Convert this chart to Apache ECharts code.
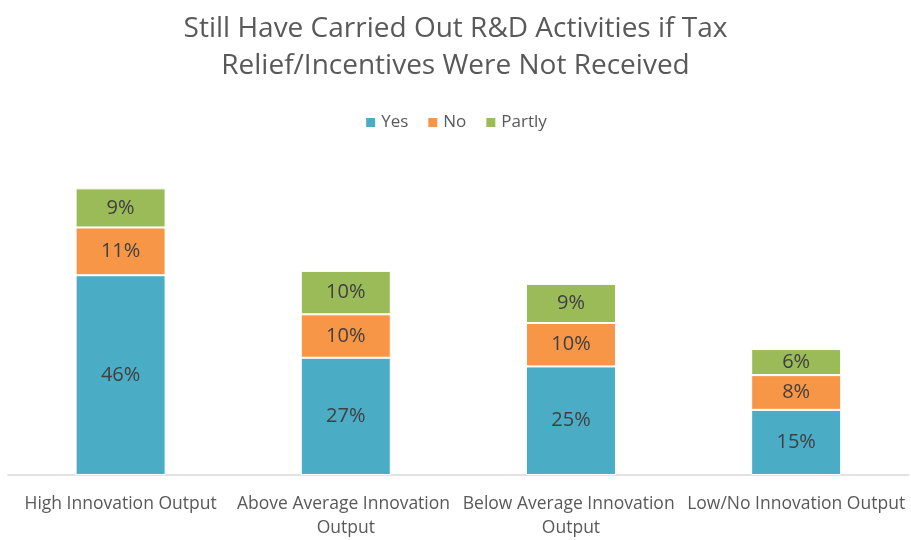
<!DOCTYPE html>
<html>
<head>
<meta charset="utf-8">
<script src="https://cdn.jsdelivr.net/npm/echarts@6/dist/echarts.min.js"></script>
<style>
  html, body { margin: 0; padding: 0; background: #fff; }
  #chart { width: 911px; height: 540px; }
</style>
</head>
<body>
<div id="chart"></div>
<script>
// Share of firms per innovation-output group (percent)
const categories = ['High Innovation Output', 'Above Average Innovation Output', 'Below Average Innovation Output', 'Low/No Innovation Output'];
const yesValues = [46, 27, 25, 15];
const noValues = [11, 10, 10, 8];
const partlyValues = [9, 10, 9, 6];
const seriesNames = ['Yes', 'No', 'Partly'];

const FONT = '"Open Sans", "Noto Sans", sans-serif';
const colors = ['#4BACC6', '#F79646', '#9BBB59'];

function stackSeries(name, values, color) {
  return {
    name: name,
    type: 'bar',
    stack: 'total',
    data: values,
    barWidth: 90,
    itemStyle: { color: color, borderColor: '#ffffff', borderWidth: 1 },
    label: {
      show: true,
      position: 'inside',
      formatter: '{c}%',
      color: '#404040',
      fontFamily: FONT,
      fontSize: 20
    }
  };
}

const chart = echarts.init(document.getElementById('chart'), null, { renderer: 'canvas' });
chart.setOption({
  animation: false,
  color: colors,
  title: {
    text: 'Still Have Carried Out R&D Activities if Tax\nRelief/Incentives Were Not Received',
    left: 'center',
    top: 6,
    textStyle: {
      color: '#595959',
      fontFamily: FONT,
      fontSize: 28,
      fontWeight: 'normal',
      lineHeight: 37
    }
  },
  legend: {
    data: seriesNames,
    top: 109,
    left: 'center',
    icon: 'rect',
    itemWidth: 11,
    itemHeight: 11,
    itemGap: 18,
    textStyle: { color: '#595959', fontFamily: FONT, fontSize: 17 }
  },
  grid: { left: 8, right: 1, top: 171, bottom: 64, containLabel: false },
  xAxis: {
    type: 'category',
    data: categories,
    axisLine: { show: true, lineStyle: { color: '#d9d9d9', width: 1.5 } },
    axisTick: { show: false },
    axisLabel: {
      interval: 0,
      color: '#595959',
      fontFamily: FONT,
      fontSize: 17.5,
      lineHeight: 24,
      margin: 17,
      width: 224,
      overflow: 'break'
    }
  },
  yAxis: {
    type: 'value',
    min: 0,
    max: 70,
    show: false,
    splitLine: { show: false }
  },
  series: [
    stackSeries(seriesNames[0], yesValues, colors[0]),
    stackSeries(seriesNames[1], noValues, colors[1]),
    stackSeries(seriesNames[2], partlyValues, colors[2])
  ]
});
</script>
</body>
</html>
